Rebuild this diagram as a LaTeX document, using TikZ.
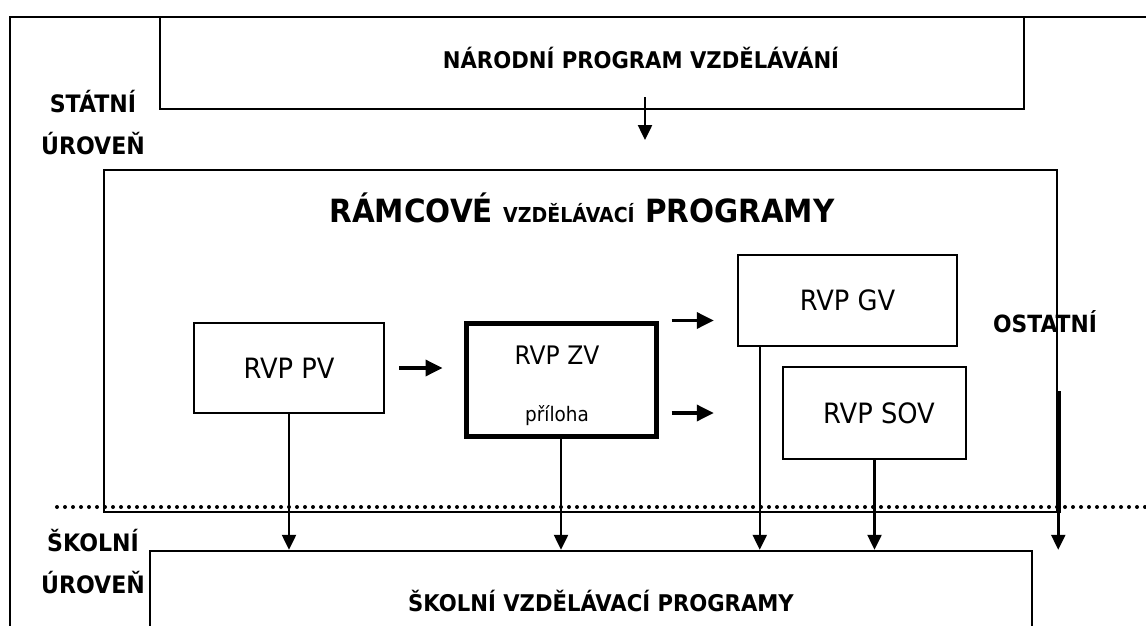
\documentclass[tikz,border=0pt]{standalone}
\usepackage{fontspec}
\setmainfont{DejaVu Sans}[FakeStretch=0.92]
\usetikzlibrary{arrows.meta}

\begin{document}
\begin{tikzpicture}[x=1pt,y=-1pt,line width=2.5pt,>={Triangle[length=15pt,width=14pt]},
  box/.style={draw,rectangle,inner sep=0pt,font=\fontsize{28}{32}\selectfont},
  level/.style={font=\bfseries\fontsize{24}{42}\selectfont,align=center,inner sep=0pt},
  head/.style={font=\bfseries\fontsize{23}{27}\selectfont},
  side arrow/.style={->,line width=3.5pt,>={Triangle[length=17pt,width=16pt]}},
  dots/.style={line width=4pt,line cap=round,dash pattern=on 0pt off 8pt}]

  \useasboundingbox (0,0) rectangle (1146,626);
  \clip (0,0) rectangle (1146,626);

  % outer frame
  \draw (10,640) -- (10,17) -- (1160,17);

  % state level
  \node[box,head,minimum width=864pt,minimum height=92pt,text depth=11pt] (npv) at (592,63)
    {\hspace*{98pt}NÁRODNÍ PROGRAM VZDĚLÁVÁNÍ};
  \node[level] (statni) at (93,123) {STÁTNÍ\\ÚROVEŇ};
  \coordinate (npvfrom) at (645,97);
  \coordinate (npvto) at (645,140);
  \draw[->] (npvfrom) -- (npvto);

  % framework programmes
  \node[box,minimum width=953pt,minimum height=342pt] (rvp) at (580.5,341) {};
  \node[font=\bfseries\fontsize{32}{36}\selectfont] (rvptitle) at (582,208)
    {RÁMCOVÉ {\fontsize{20.6}{24}\selectfont VZDĚLÁVACÍ} PROGRAMY};
  \node[font=\bfseries\fontsize{23.7}{28}\selectfont] (ostatni) at (1045,322) {OSTATNÍ};

  \node[box,minimum width=190pt,minimum height=90pt] (pv) at (289,368) {RVP PV};
  \node[box,line width=5pt,minimum width=190pt,minimum height=113pt] (zv) at (561,379.5) {};
  \node[font=\fontsize{25.5}{30}\selectfont] (zvname) at (557,355) {RVP ZV};
  \node[font=\fontsize{20}{24}\selectfont] (zvnote) at (557,416) {příloha};
  \node[box,minimum width=219pt,minimum height=91pt] (gv) at (847.5,300.5) {RVP GV};
  \node[box,minimum width=183pt,minimum height=92pt] (sov) at (874.5,413) {\hspace*{9pt}RVP SOV};

  \draw[side arrow] ([xshift=14pt]pv.east) -- ([xshift=-21pt]zv.west |- pv.east);
  \draw[side arrow] ([xshift=13pt]zv.north east) -- ([xshift=-23pt]gv.west |- zv.north east);
  \draw[side arrow] ([xshift=13pt]zv.east |- sov.west) -- ([xshift=-23pt]gv.west |- sov.west);

  % border between the levels
  \draw[dots] (57,507) -- (1146,507);
  \draw[line width=4.5pt] ([yshift=122pt]rvp.south east) -- (rvp.south east);

  % school level
  \node[box,head,minimum width=882pt,minimum height=100pt] (svp) at (591,601)
    {\hspace*{20pt}ŠKOLNÍ VZDĚLÁVACÍ PROGRAMY};
  \node[level] (skolni) at (93,562) {ŠKOLNÍ\\ÚROVEŇ};

  \draw[->] (pv.south) -- (pv.south |- svp.north);
  \draw[->] (zv.south) -- (zv.south |- svp.north);
  \draw[->] ([xshift=23pt]gv.south west) -- ([xshift=23pt]gv.south west |- svp.north);
  \draw[->] (sov.south) -- (sov.south |- svp.north);
  \draw[->] (rvp.south east) -- (rvp.south east |- svp.north);
\end{tikzpicture}
\end{document}
